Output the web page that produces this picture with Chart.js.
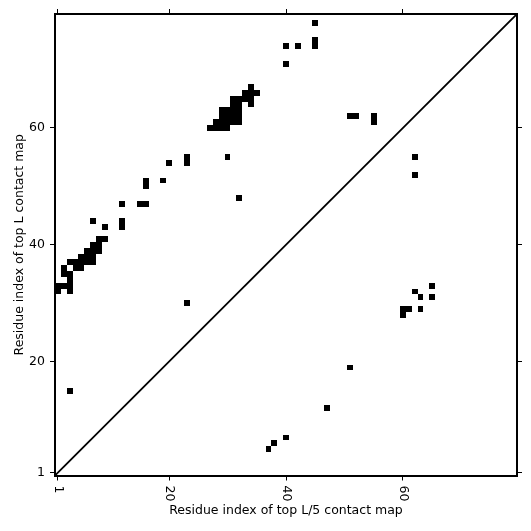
<!DOCTYPE html>
<html lang="en">
<head>
    <meta charset="UTF-8">
    <title>Contact map</title>
    <style>
        body { margin: 0; background: #fff; }
        #wrap { width: 531px; height: 531px; }
    </style>
    <script src="https://cdn.jsdelivr.net/npm/chart.js"></script>
</head>
<body>
<div id="wrap"><canvas id="mychart"></canvas></div>
<script>
    // residue count and tick marks
    const seqLen = 79;
    const xTickVals = [1, 20, 40, 60];
    const xTickLabels = ['1', '20', '40', '60'];
    const yTickVals = [1, 20, 40, 60];
    const yTickLabels = ['1', '20', '40', '60'];

    // top L contacts (upper-left triangle)
    const topLX = [8, 9, 7, 8, 6, 7, 8, 5, 6, 7, 3, 4, 5, 6, 7, 2, 4, 5, 2, 3, 3, 1, 2, 3, 1, 3,
        7, 9, 12, 12, 12, 15, 16, 16, 16, 19, 20, 23, 23, 3, 23, 30, 32,
        27, 28, 29, 30, 28, 29, 30, 31, 32, 29, 30, 31, 32, 29, 30, 31, 32, 31, 32, 34, 31, 32, 33, 34, 33, 34, 35, 34,
        40, 40, 42, 45, 45, 45, 51, 52, 55, 55];
    const topLY = [41, 41, 40, 40, 39, 39, 39, 38, 38, 38, 37, 37, 37, 37, 37, 36, 36, 36, 35, 35, 34, 33, 33, 33, 32, 32,
        44, 43, 43, 44, 47, 47, 47, 50, 51, 51, 54, 54, 55, 15, 30, 55, 48,
        60, 60, 60, 60, 61, 61, 61, 61, 61, 62, 62, 62, 62, 63, 63, 63, 63, 64, 64, 64, 65, 65, 65, 65, 66, 66, 66, 67,
        71, 74, 74, 74, 75, 78, 62, 62, 61, 62];

    // top L/5 contacts (lower-right triangle)
    const topL5X = [37, 38, 40, 47, 51, 60, 60, 61, 63, 62, 63, 65, 65, 62, 62];
    const topL5Y = [5, 6, 7, 12, 19, 28, 29, 29, 29, 32, 31, 31, 33, 52, 55];

    const toPoints = (xs, ys) => xs.map((x, i) => ({x: x, y: ys[i]}));

    // point a bit smaller than a cell; the cell plugin below paints the full, pixel-snapped cell over it
    function cellRadius(ctx) {
        const s = ctx.chart.scales.x;
        const cell = Math.abs(s.getPixelForValue(1) - s.getPixelForValue(0));
        return (cell - 1.5) / Math.SQRT2;
    }

    // snap each contact cell to whole pixels so neighbouring cells join without seams
    const snappedCells = {
        id: 'snappedCells',
        afterDatasetsDraw(chart) {
            const xs = chart.scales.x, ys = chart.scales.y;
            const ctx = chart.ctx;
            ctx.save();
            ctx.fillStyle = '#000';
            [0, 1].forEach(di => {
                chart.getDatasetMeta(di).data.forEach((el, i) => {
                    const p = chart.data.datasets[di].data[i];
                    const x0 = Math.round(xs.getPixelForValue(p.x - 0.5));
                    const x1 = Math.round(xs.getPixelForValue(p.x + 0.5));
                    const y0 = Math.round(ys.getPixelForValue(p.y + 0.5));
                    const y1 = Math.round(ys.getPixelForValue(p.y - 0.5));
                    ctx.fillRect(x0, y0, x1 - x0, y1 - y0);
                });
            });
            ctx.restore();
        }
    };

    const font = {family: '"DejaVu Sans"', size: 12.5};

    function fixTicks(vals) {
        return scale => { scale.ticks = vals.map(v => ({value: v})); };
    }

    const tickGrid = {drawOnChartArea: false, drawTicks: true, tickLength: 5, tickWidth: 1, color: '#000', tickColor: '#000'};
    const border = {display: true, color: '#000', width: 2};

    // x labels read top to bottom, so draw them turned clockwise
    const rotatedXLabels = {
        id: 'rotatedXLabels',
        afterDraw(chart) {
            const s = chart.scales.x;
            const ctx = chart.ctx;
            ctx.save();
            ctx.font = '12.5px "DejaVu Sans"';
            ctx.fillStyle = '#000';
            ctx.textAlign = 'left';
            ctx.textBaseline = 'middle';
            xTickVals.forEach((v, i) => {
                ctx.save();
                ctx.translate(s.getPixelForValue(v), s.top + 10);
                ctx.rotate(Math.PI / 2);
                ctx.fillText(xTickLabels[i], 0, 0);
                ctx.restore();
            });
            ctx.restore();
        }
    };

    const cellStyle = {
        pointStyle: 'rect',
        radius: cellRadius,
        backgroundColor: '#000',
        borderWidth: 0
    };

    const setting = {
        type: 'scatter',
        data: {
            datasets: [
                Object.assign({label: 'top L', data: toPoints(topLX, topLY)}, cellStyle),
                Object.assign({label: 'top L/5', data: toPoints(topL5X, topL5Y)}, cellStyle),
                {
                    label: 'diagonal',
                    data: [{x: 0.5, y: 0.5}, {x: seqLen + 0.5, y: seqLen + 0.5}],
                    showLine: true,
                    borderColor: '#000',
                    borderWidth: 1.8,
                    pointRadius: 0
                }
            ]
        },
        options: {
            responsive: true,
            maintainAspectRatio: false,
            animation: false,
            layout: {padding: 0},
            plugins: {legend: {display: false}, tooltip: {enabled: false}},
            scales: {
                x: {
                    type: 'linear', position: 'bottom', min: 0.5, max: seqLen + 0.5,
                    afterBuildTicks: fixTicks(xTickVals),
                    afterFit: s => { s.height = 55.5; },
                    ticks: {display: false},
                    grid: tickGrid, border: border,
                    title: {display: true, text: 'Residue index of top L/5 contact map', color: '#000', font: font, padding: {top: 0, bottom: 13}}
                },
                y: {
                    type: 'linear', position: 'left', min: 0.5, max: seqLen + 0.5,
                    afterBuildTicks: fixTicks(yTickVals),
                    afterFit: s => { s.width = 55; },
                    ticks: {color: '#000', font: font, padding: 5, callback: (v) => yTickLabels[yTickVals.indexOf(v)]},
                    grid: tickGrid, border: border,
                    title: {display: true, text: 'Residue index of top L contact map', color: '#000', font: font, padding: {top: 12, bottom: 0}}
                },
                x2: {
                    type: 'linear', position: 'top', min: 0.5, max: seqLen + 0.5,
                    afterBuildTicks: fixTicks(xTickVals),
                    afterFit: s => { s.height = 14; },
                    ticks: {display: false},
                    grid: tickGrid, border: border
                },
                y2: {
                    type: 'linear', position: 'right', min: 0.5, max: seqLen + 0.5,
                    afterBuildTicks: fixTicks(yTickVals),
                    afterFit: s => { s.width = 14; },
                    ticks: {display: false},
                    grid: tickGrid, border: border
                }
            }
        },
        plugins: [snappedCells, rotatedXLabels]
    };

    new Chart(document.getElementById('mychart'), setting);
</script>
</body>
</html>
